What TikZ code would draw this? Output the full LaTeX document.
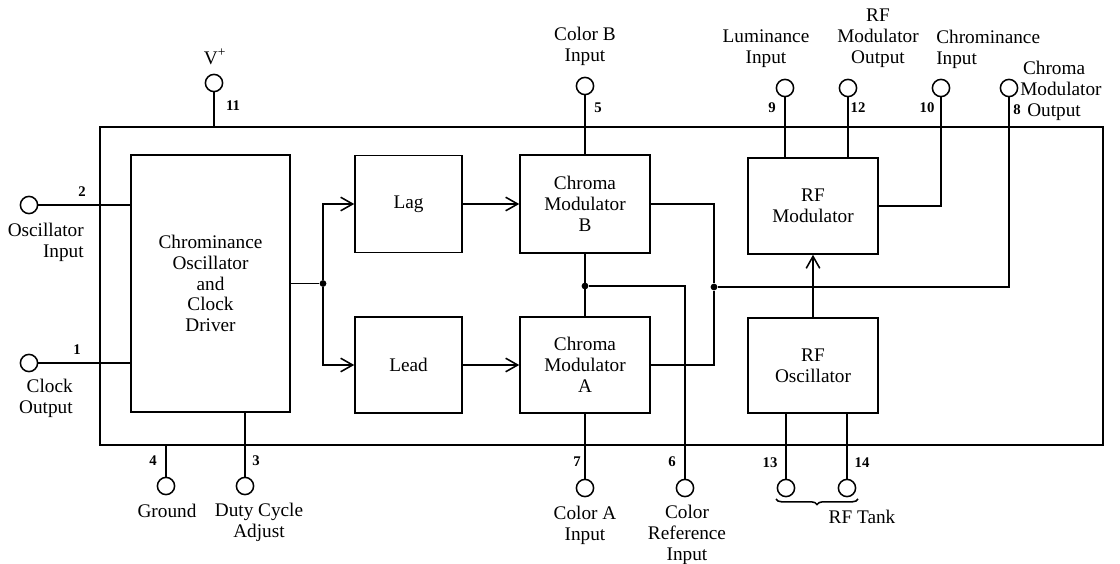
\documentclass[tikz,border=0pt]{standalone}
\usepackage{fontspec}
\setmainfont{Liberation Serif}
\usetikzlibrary{arrows.meta,positioning,decorations.pathreplacing}
\tikzset{
block/.style={draw,line width=1.1pt,inner sep=0pt,align=center,font=\fontsize{13.7}{14.8}\selectfont},
terminal/.style={draw,circle,line width=1.1pt,minimum size=.43cm,inner sep=0pt},
pinno/.style={inner sep=0pt,font=\fontsize{10.5}{12}\selectfont\bfseries},
pinname/.style={inner sep=0pt,align=center,font=\fontsize{13.7}{14.8}\selectfont},
wire/.style={line width=1.1pt},
signal/.style={-{Straight Barb[length=3mm,width=3.4mm]},line width=1.1pt},
junction/.style={circle,fill,inner sep=0pt,minimum size=1.7mm}
}
\begin{document}
\begin{tikzpicture}[x=0.025cm,y=-0.025cm]
\useasboundingbox (0,0) rectangle (1120,564);
\node[block,minimum width=25.075cm,minimum height=7.95cm](chip) at (601.5,286){};
\node[block,minimum width=3.975cm,minimum height=6.425cm](osc) at (210.5,283.5){Chrominance\\Oscillator\\and\\Clock\\Driver};
\node[block,minimum width=2.675cm,minimum height=2.425cm](lag) at (408.5,204){Lag};
\node[block,minimum width=2.675cm,minimum height=2.4cm](lead) at (408.5,365){Lead};
\node[block,minimum width=3.25cm,minimum height=2.44cm](modb) at (585,204){Chroma\\Modulator\\B};
\node[block,minimum width=3.25cm,minimum height=2.4cm](moda) at (585,365){Chroma\\Modulator\\A};
\node[block,minimum width=3.25cm,minimum height=2.4cm](rfmod) at (813,206){RF\\Modulator};
\node[block,minimum width=3.25cm,minimum height=2.38cm](rfosc) at (813,365.5){RF\\Oscillator};
\node[terminal](t11) at (214,83){};
\node[terminal](t5) at (585,86){};
\node[terminal](t9) at (785,88){};
\node[terminal](t12) at (848,88){};
\node[terminal](t10) at (941,88){};
\node[terminal](t8) at (1009,88){};
\node[terminal](t2) at (29,205){};
\node[terminal](t1) at (29,363){};
\node[terminal](t4) at (166,486){};
\node[terminal](t3) at (245,486){};
\node[terminal](t7) at (585,488){};
\node[terminal](t6) at (685,488){};
\node[terminal](t13) at (786,488){};
\node[terminal](t14) at (847,488){};
\node[pinno](n11) at (233,106){11};
\node[pinno](n5) at (598,108){5};
\node[pinno](n9) at (772,108){9};
\node[pinno](n12) at (858,108){12};
\node[pinno](n10) at (927,108){10};
\node[pinno](n8) at (1017,110){8};
\node[pinno](n2) at (82,192){2};
\node[pinno](n1) at (77,350){1};
\node[pinno](n4) at (153,461){4};
\node[pinno](n3) at (256,461){3};
\node[pinno](n7) at (577,462){7};
\node[pinno](n6) at (672,462){6};
\node[pinno](n13) at (770,463){13};
\node[pinno](n14) at (862,463){14};
\node[pinname](vplus) at (215,57){V\textsuperscript{+}};
\node[pinname](colb) at (585,46){Color B\\Input};
\node[pinname](lumin) at (766,49){Luminance\\Input};
\node[pinname](rfout) at (878,38){RF\\Modulator\\Output};
\node[pinname,anchor=west,align=left](chromin) at (936,49){Chrominance\\Input};
\node[pinname,anchor=west,align=left](chromout) at (1020,91){\hspace*{2pt}Chroma\\Modulator\\\hspace*{5pt}Output};
\node[pinname,anchor=east,align=right](oscin) at (84,242){Oscillator\\Input};
\node[pinname,anchor=east,align=right](clkout) at (73,398){Clock\\Output};
\node[pinname](ground) at (167,511){Ground};
\node[pinname](duty) at (259,522){Duty Cycle\\Adjust};
\node[pinname](cola) at (585,525){Color A\\Input};
\node[pinname](colref) at (687,535){Color\\Reference\\Input};
\node[pinname](tank) at (862,517){RF Tank};
\node[junction](j1) at (323,283.5){};
\node[junction](j2) at (585,286){};
\node[junction](j3) at (714,287){};
\coordinate(tankl) at (776,499);
\coordinate(tankr) at (858,499);
\draw[wire](osc.east)--(j1);
\draw[signal](j1)|-(lag.west);
\draw[signal](j1)|-(lead.west);
\draw[signal](lag)--(modb);
\draw[signal](lead)--(moda);
\draw[wire](modb)--(moda);
\draw[wire](j2)-|(t6.north);
\draw[wire](modb.east)-|(j3);
\draw[wire](moda.east)-|(j3);
\draw[wire](j3)-|(t8.south);
\draw[signal](rfosc)--(rfmod);
\draw[wire](t10.south)|-(rfmod.east);
\draw[wire](t9.south)--(t9.south|-rfmod.north);
\draw[wire](t12.south)--(t12.south|-rfmod.north);
\draw[wire](t5.south)--(modb.north);
\draw[wire](moda.south)--(t7.north);
\draw[wire](t11.south)--(t11.south|-chip.north);
\draw[wire](t2.east)--(osc.west|-t2.east);
\draw[wire](t1.east)--(osc.west|-t1.east);
\draw[wire](t4.north)--(t4.north|-chip.south);
\draw[wire](t3.north)--(t3.north|-osc.south);
\draw[wire](t13.north)--(t13.north|-rfosc.south);
\draw[wire](t14.north)--(t14.north|-rfosc.south);
\draw[wire,decorate,decoration={brace,mirror,amplitude=4pt}](tankl)--(tankr);
\end{tikzpicture}
\end{document}
